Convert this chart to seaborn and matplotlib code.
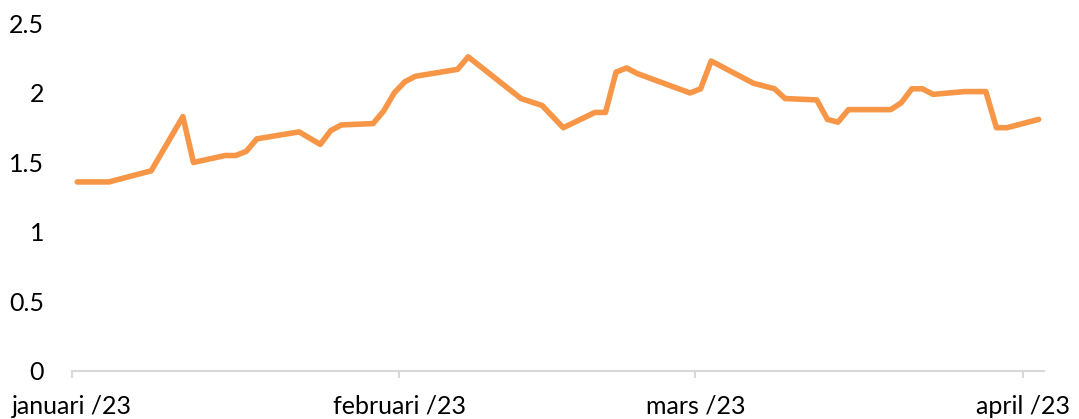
import pandas as pd
import seaborn as sns
import matplotlib.pyplot as plt

# data
dates = ["2023-01-01", "2023-01-04", "2023-01-08", "2023-01-11", "2023-01-12",
         "2023-01-15", "2023-01-16", "2023-01-17", "2023-01-18", "2023-01-22",
         "2023-01-24", "2023-01-25", "2023-01-26", "2023-01-29", "2023-01-30",
         "2023-01-31", "2023-02-01", "2023-02-02", "2023-02-06", "2023-02-07",
         "2023-02-12", "2023-02-14", "2023-02-16", "2023-02-19", "2023-02-20",
         "2023-02-21", "2023-02-22", "2023-02-23", "2023-02-28", "2023-03-01",
         "2023-03-02", "2023-03-06", "2023-03-08", "2023-03-09", "2023-03-12",
         "2023-03-13", "2023-03-14", "2023-03-15", "2023-03-19", "2023-03-20",
         "2023-03-21", "2023-03-22", "2023-03-23", "2023-03-26", "2023-03-28",
         "2023-03-29", "2023-03-30", "2023-04-02"]
values = [1.36, 1.36, 1.44, 1.83, 1.50, 1.55, 1.55, 1.58, 1.67, 1.72,
          1.63, 1.73, 1.77, 1.78, 1.87, 2.00, 2.08, 2.12, 2.17, 2.26,
          1.96, 1.91, 1.75, 1.86, 1.86, 2.15, 2.18, 2.14, 2.00, 2.03,
          2.23, 2.07, 2.03, 1.96, 1.95, 1.81, 1.79, 1.88, 1.88, 1.93,
          2.03, 2.03, 1.99, 2.01, 2.01, 1.75, 1.75, 1.81]
month_starts = ["2023-01-01", "2023-02-01", "2023-03-01", "2023-04-01"]
month_labels = ["januari /23", "februari /23", "mars /23", "april /23"]
y_ticks = [0, 0.5, 1, 1.5, 2, 2.5]
y_labels = ["0", "0.5", "1", "1.5", "2", "2.5"]

df = pd.DataFrame({"date": pd.to_datetime(dates), "value": values})

sns.set_theme(style="white")
plt.rcParams['font.family'] = ['Lato', 'DejaVu Sans']

fig = plt.figure(figsize=(10.79, 4.19), dpi=100)
ax = fig.add_axes([0.0667, 0.1146, 0.9008, 0.8294])

sns.lineplot(data=df, x="date", y="value", color="#F79646", linewidth=4.0, ax=ax)
for ln in ax.get_lines():
    ln.set_solid_capstyle("round")
    ln.set_solid_joinstyle("round")

half_day = pd.Timedelta(hours=12)
ax.set_xlim(pd.Timestamp("2023-01-01") - half_day, pd.Timestamp("2023-04-02") + half_day)
ax.set_ylim(0, 2.5)

ax.set_xticks(pd.to_datetime(month_starts) - half_day)
ax.set_xticklabels(month_labels, fontsize=18, color="#000000")
ax.set_yticks(y_ticks)
ax.set_yticklabels(y_labels, fontsize=18, color="#000000")

ax.set_xlabel("")
ax.set_ylabel("")
for side in ["top", "right", "left"]:
    ax.spines[side].set_visible(False)
ax.spines["bottom"].set_color("#D9D9D9")
ax.spines["bottom"].set_linewidth(1.5)
ax.tick_params(axis="x", length=5, width=1.5, color="#D9D9D9", pad=12, bottom=True)
ax.tick_params(axis="y", length=0, pad=20)
ax.grid(False)

plt.savefig("out.png", dpi=100)
